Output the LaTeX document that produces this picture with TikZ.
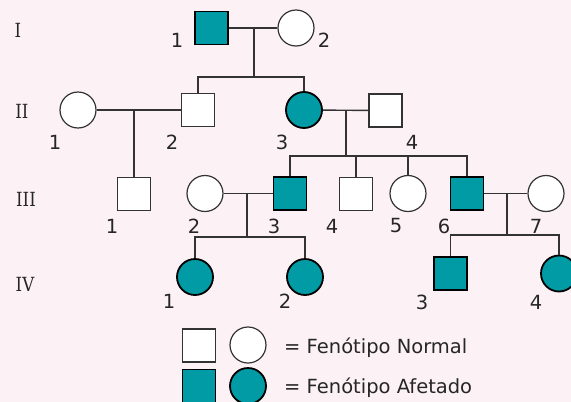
\documentclass[tikz,border=0pt]{standalone}
\usepackage{fontspec}
\usepackage{graphicx}
\setmainfont{DejaVu Sans}
\newfontfamily\genfont{DejaVu Serif}
\definecolor{bgc}{HTML}{FCF2F6}
\definecolor{teal}{HTML}{009BA4}
\definecolor{linec}{HTML}{333333}
\newcommand{\genlab}[1]{\scalebox{0.85}[1]{\genfont\fontsize{19.5}{20}\selectfont #1}}
\tikzset{
  sq/.style={rectangle, minimum size=33pt, inner sep=0pt},
  ci/.style={circle, minimum size=36pt, inner sep=0pt},
  norm/.style={draw=linec, fill=white, line width=1.2pt},
  aff/.style={draw=black, fill=teal, line width=1.8pt},
  conn/.style={draw=linec, line width=1.4pt},
  num/.style={font=\fontsize{19.5}{20}\selectfont, inner sep=0pt, text=black!85},
  gen/.style={inner sep=0pt, text=black!85},
}
\begin{document}
\begin{tikzpicture}[x=1pt, y=-1pt]
\fill[bgc] (0,0) rectangle (571,402);
\useasboundingbox (0,0) rectangle (571,402);
% generation labels
\node[gen] (gI) at (18,30) {\genlab{I}};
\node[gen] (gII) at (22,111) {\genlab{II}};
\node[gen] (gIII) at (26,199.5) {\genlab{III}};
\node[gen] (gIV) at (25,284.5) {\genlab{IV}};
% generation I
\node[sq,aff] (I1) at (211.5,28) {};
\node[ci,norm] (I2) at (296,28) {};
% generation II
\node[ci,norm] (II1) at (78,110) {};
\node[sq,norm] (II2) at (198,110) {};
\node[ci,aff] (II3) at (304,110) {};
\node[sq,norm] (II4) at (385.5,110.5) {};
% generation III
\node[sq,norm] (III1) at (134,194) {};
\node[ci,norm] (III2) at (205,193.5) {};
\node[sq,aff] (III3) at (290,193.5) {};
\node[sq,norm] (III4) at (356,194) {};
\node[ci,norm] (III5) at (408,193.5) {};
\node[sq,aff] (III6) at (467,193.5) {};
\node[ci,norm] (III7) at (546,193.5) {};
% generation IV
\node[ci,aff] (IV1) at (195,277) {};
\node[ci,aff] (IV2) at (305,277) {};
\node[sq,aff] (IV3) at (450.5,273.5) {};
\node[ci,aff] (IV4) at (559,273.5) {};
% numbers
\node[num] (nI1) at (177,40) {1};
\node[num] (nI2) at (324,40) {2};
\node[num] (nII1) at (55,142) {1};
\node[num] (nII2) at (172,142) {2};
\node[num] (nII3) at (282,142) {3};
\node[num] (nII4) at (412,142) {4};
\node[num] (nIII1) at (112,226) {1};
\node[num] (nIII2) at (194,226) {2};
\node[num] (nIII3) at (274,226) {3};
\node[num] (nIII4) at (332,226) {4};
\node[num] (nIII5) at (396,226) {5};
\node[num] (nIII6) at (444,226) {6};
\node[num] (nIII7) at (536,226) {7};
\node[num] (nIV1) at (169,301) {1};
\node[num] (nIV2) at (285,301) {2};
\node[num] (nIV3) at (422,302) {3};
\node[num] (nIV4) at (536,302) {4};
% connector junctions
\coordinate (m1) at (254,28);
\coordinate (b1) at (254,77);
\coordinate (m2) at (134,110);
\coordinate (m3) at (346,110.5);
\coordinate (b3) at (346,156);
\coordinate (m4) at (247,193.5);
\coordinate (b4) at (247,237);
\coordinate (m5) at (507,193.5);
\coordinate (b5) at (507,235);
% connectors
\draw[conn] (I1) -- (I2);
\draw[conn] (m1) -- (b1);
\draw[conn] (II2.north) |- (b1) -| (II3.north);
\draw[conn] (II1) -- (II2);
\draw[conn] (m2) -- (III1.north);
\draw[conn] (II3) -- (II4);
\draw[conn] (m3) -- (b3);
\draw[conn] (III3.north) |- (b3) -| (III6.north);
\draw[conn] (b3) -| (III4.north);
\draw[conn] (b3) -| (III5.north);
\draw[conn] (III2) -- (III3);
\draw[conn] (m4) -- (b4);
\draw[conn] (IV1.north) |- (b4) -| (IV2.north);
\draw[conn] (III6) -- (III7);
\draw[conn] (m5) -- (b5);
\draw[conn] (IV3.north) |- (b5) -| (IV4.north);
% legend
\node[sq,norm] (L1) at (199,345.5) {};
\node[ci,norm] (L2) at (248,345) {};
\node[sq,aff] (L3) at (199,386) {};
\node[ci,aff] (L4) at (248,386) {};
\node[num, anchor=base west] (T1) at (284,353) {= Fenótipo Normal};
\node[num, anchor=base west] (T2) at (284,393) {= Fenótipo Afetado};
\end{tikzpicture}
\end{document}
